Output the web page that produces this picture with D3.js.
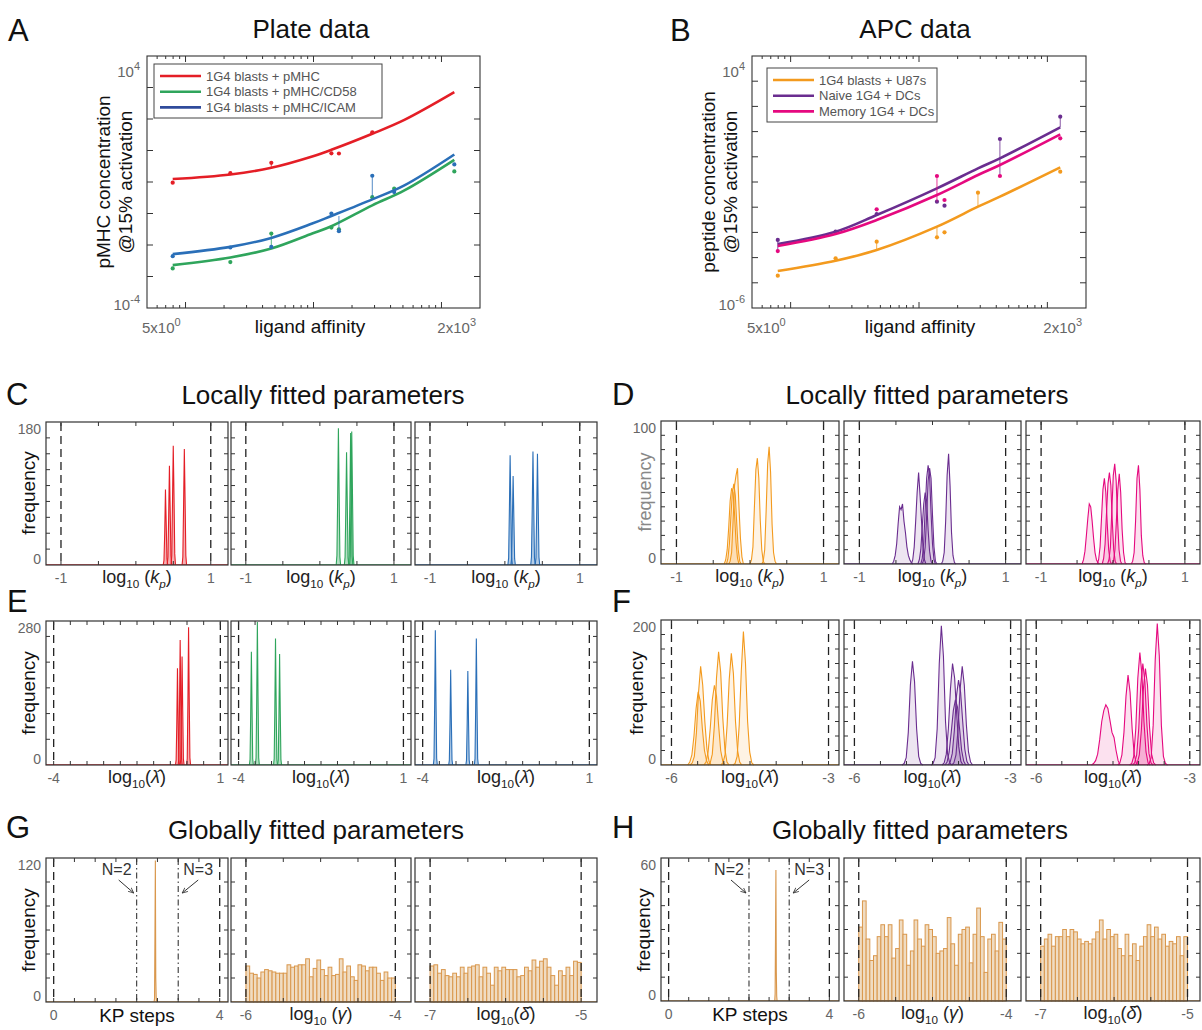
<!DOCTYPE html>
<html><head><meta charset="utf-8">
<script src="https://cdn.jsdelivr.net/npm/d3@7"></script>
<style>
body{margin:0;background:#fff}
svg text{font-family:"Helvetica Neue",Helvetica,"Liberation Sans",Arial,sans-serif}
</style></head><body>
<svg id="fig" width="1202" height="1030"></svg>
<script>
// ================= DATA =================
// Panel A (plate data)
const curveAffinityA = [7.94, 22.4, 46.8, 97.7, 138, 288, 513, 1260];
const redCurve   = [1.24, 1.74, 2.83, 6.46, 10.5, 33.9, 93.3, 708];
const greenCurve = [0.0023, 0.00401, 0.00773, 0.0231, 0.0394, 0.182, 0.542, 5.07];
const blueCurve  = [0.00512, 0.00873, 0.01683, 0.0479, 0.0836, 0.281, 0.78, 7.46];
const redPoints   = [[7.94,0.955],[22.4,1.91],[46.8,4.07],[138,8.13],[158,8.04],[288,38.0]];
const greenPoints = [[7.94,0.0018],[22.4,0.00286],[46.8,0.0231],[138,0.0357],[158,0.0316],[288,0.331],[427,0.612],[1260,2.16]];
const bluePoints  = [[7.94,0.00443],[22.4,0.00832],[46.8,0.00871],[138,0.0991],[158,0.0274],[288,1.58],[427,0.48],[1260,3.61]];
const redStems   = [[46.8,4.07,2.83],[288,38.0,33.9]];
const greenStems = [[46.8,0.0231,0.00871]];
const blueStems  = [[158,0.0274,0.0832],[288,1.58,0.331]];
const legendA = ["1G4 blasts + pMHC","1G4 blasts + pMHC/CD58","1G4 blasts + pMHC/ICAM"];

// Panel B (APC data)
const curveAffinityB = [7.94, 22.4, 46.8, 138, 288, 427, 1260];
const orangeCurve = [2.94e-5, 7.55e-5, 2.00e-4, 1.69e-3, 0.0105, 0.0262, 0.382];
const purpleCurve = [3.47e-4, 1.07e-3, 4.90e-3, 0.0561, 0.348, 0.869, 14.8];
const pinkCurve   = [2.88e-4, 8.65e-4, 3.10e-3, 0.0305, 0.190, 0.473, 7.80];
const orangePoints = [[7.94,1.92e-5],[22.4,9.33e-5],[46.8,4.29e-4],[138,6.37e-4],[158,1.01e-3],[288,0.0378],[1260,0.257]];
const purplePoints = [[7.94,5.01e-4],[22.4,1.07e-3],[46.8,5.37e-3],[138,0.0166],[158,0.0115],[427,5.08],[1260,39.2]];
const pinkPoints   = [[7.94,1.82e-4],[46.8,8.22e-3],[138,0.173],[158,0.0193],[427,0.173],[1260,5.41]];
const orangeStems = [[46.8,4.29e-4,2.0e-4],[138,6.37e-4,1.69e-3],[288,0.0378,0.0105]];
const purpleStems = [[7.94,5.01e-4,1.82e-4],[427,5.08,0.173],[1260,39.2,14.8]];
const pinkStems   = [[138,0.173,0.0166]];
const legendB = ["1G4 blasts  + U87s","Naive 1G4 + DCs","Memory 1G4 + DCs"];

// C: log10(kp) histograms (plate)
const cRed = [
 {start:0.365,step:0.01,counts:[0,6,40,95,52,8,0]},
 {start:0.418,step:0.01,counts:[0,10,62,125,70,12,0]},
 {start:0.469,step:0.01,counts:[0,12,80,150,88,14,0]},
 {start:0.617,step:0.01,counts:[0,10,75,146,82,12,0]}];
const cGreen = [
 {start:0.22,step:0.01,counts:[0,12,85,172,90,10,0]},
 {start:0.33,step:0.01,counts:[0,10,70,142,76,9,0]},
 {start:0.385,step:0.01,counts:[0,12,82,166,88,11,0]},
 {start:0.40,step:0.01,counts:[0,11,84,168,90,12,0]}];
const cBlue = [
 {start:0.04,step:0.01,counts:[0,9,68,138,72,10,0]},
 {start:0.08,step:0.01,counts:[0,8,55,112,60,8,0]},
 {start:0.345,step:0.01,counts:[0,10,70,143,76,9,0]},
 {start:0.405,step:0.01,counts:[0,9,68,140,74,10,0]}];
// D: log10(kp) histograms (APC)
const dOrange = [
 {start:-0.35,step:0.02,counts:[0,3,10,25,44,53,50,35,15,4,0]},
 {start:-0.32,step:0.02,counts:[0,4,14,33,50,56,48,28,10,2,0]},
 {start:-0.29,step:0.02,counts:[0,2,8,30,55,62,67,40,18,5,0]},
 {start:0.0,step:0.02,counts:[0,3,12,40,66,74,60,30,10,2,0]},
 {start:0.16,step:0.02,counts:[0,2,10,38,70,82,64,28,8,2,0]}];
const dPurple = [
 {start:-0.55,step:0.02,counts:[0,2,6,14,28,40,38,42,30,22,12,6,3,1,0]},
 {start:-0.29,step:0.02,counts:[0,3,12,30,50,64,48,30,12,3,0]},
 {start:-0.2,step:0.02,counts:[0,3,10,26,42,50,44,24,9,2,0]},
 {start:-0.16,step:0.02,counts:[0,4,15,38,60,69,62,36,14,3,0]},
 {start:-0.14,step:0.02,counts:[0,3,12,34,58,67,60,34,12,2,0]},
 {start:0.12,step:0.02,counts:[0,2,8,30,62,77,55,22,6,1,0]}];
const dPink = [
 {start:-0.43,step:0.02,counts:[0,3,9,20,32,42,40,30,18,8,3,1,0]},
 {start:-0.22,step:0.02,counts:[0,3,12,32,52,60,50,28,10,2,0]},
 {start:-0.15,step:0.02,counts:[0,4,14,36,56,64,55,30,10,2,0]},
 {start:-0.076,step:0.02,counts:[0,3,12,38,62,70,58,30,10,2,0]},
 {start:-0.013,step:0.02,counts:[0,2,10,30,52,63,50,24,8,1,0]},
 {start:0.254,step:0.02,counts:[0,2,8,30,60,69,52,20,6,1,0]}];
// E: log10(lambda-hat) histograms (plate)
const eRed = [
 {start:-0.346,step:0.02,counts:[0,10,80,188,95,12,0]},
 {start:-0.265,step:0.02,counts:[0,12,110,243,120,14,0]},
 {start:-0.208,step:0.02,counts:[0,10,95,211,105,12,0]},
 {start:-0.013,step:0.02,counts:[0,12,120,268,130,14,0]}];
const eGreen = [
 {start:-3.672,step:0.02,counts:[0,11,100,220,110,12,0]},
 {start:-3.49,step:0.02,counts:[0,14,125,278,135,14,0]},
 {start:-2.94,step:0.02,counts:[0,12,110,246,120,12,0]},
 {start:-2.816,step:0.02,counts:[0,10,95,216,105,11,0]}];
const eBlue = [
 {start:-3.68,step:0.02,counts:[0,12,118,262,125,13,0]},
 {start:-3.22,step:0.02,counts:[0,9,82,185,90,10,0]},
 {start:-2.705,step:0.02,counts:[0,9,80,183,88,10,0]},
 {start:-2.45,step:0.02,counts:[0,12,110,246,118,12,0]}];
// F: log10(lambda-hat) histograms (APC)
const fOrange = [
 {start:-5.69,step:0.04,counts:[0,4,14,40,78,101,88,50,20,6,0]},
 {start:-5.643,step:0.04,counts:[0,3,12,45,100,136,110,60,22,5,0]},
 {start:-5.38,step:0.04,counts:[0,4,18,50,90,110,95,55,20,5,0]},
 {start:-5.30,step:0.04,counts:[0,3,15,55,120,156,128,65,22,4,0]},
 {start:-5.057,step:0.04,counts:[0,3,14,55,118,154,126,60,20,4,0]},
 {start:-4.826,step:0.04,counts:[0,2,12,55,130,184,140,60,18,3,0]}];
const fPurple = [
 {start:-5.085,step:0.04,counts:[0,2,10,45,110,143,115,50,12,2,0]},
 {start:-4.53,step:0.04,counts:[0,2,10,50,140,192,150,60,15,3,0]},
 {start:-4.315,step:0.04,counts:[0,3,15,50,105,140,120,70,25,5,0]},
 {start:-4.26,step:0.04,counts:[0,4,18,45,75,90,80,50,20,5,0]},
 {start:-4.2,step:0.04,counts:[0,4,16,48,95,117,100,60,22,5,0]},
 {start:-4.129,step:0.04,counts:[0,3,14,50,105,136,110,55,18,4,0]}];
const fPink = [
 {start:-4.92,step:0.04,counts:[0,2,6,15,35,60,75,83,78,62,45,38,20,6,0]},
 {start:-4.406,step:0.04,counts:[0,3,14,45,95,124,100,50,15,3,0]},
 {start:-4.175,step:0.04,counts:[0,2,12,50,120,155,125,60,18,3,0]},
 {start:-4.117,step:0.04,counts:[0,3,14,50,110,140,115,55,16,3,0]},
 {start:-4.066,step:0.04,counts:[0,3,14,48,105,133,110,52,15,3,0]},
 {start:-3.835,step:0.04,counts:[0,2,10,55,145,195,150,55,12,2,0]}];
// G/H: global parameters
const gKP = [{start:2.42,step:0.01,counts:[0,3,55,118,20,4,1,0]}];
const hKP = [{start:2.64,step:0.01,counts:[0,3,28,55,12,2,0]}];
const gGammaBins = {start:-6, step:0.05, counts:[30,24,23,20,25,27,26,25,24,24,24,31,29,30,31,31,36,21,28,35,27,22,29,22,23,36,25,30,21,18,31,30,26,29,29,24,18,25,20,20]};
const gDeltaBins = {start:-7, step:0.05, counts:[30,31,24,27,22,21,24,21,29,24,29,30,31,21,29,24,14,29,26,29,27,27,27,21,22,29,26,35,29,34,36,29,22,14,26,22,29,22,34,33]};
const hGammaBins = {start:-6, step:0.05, counts:[31,42,26,17,19,27,32,27,32,18,22,34,28,15,21,34,26,23,32,30,27,20,21,22,35,24,15,28,30,31,16,28,39,27,12,26,28,21,33,26]};
const hDeltaBins = {start:-7, step:0.05, counts:[23,26,28,23,27,27,30,27,30,29,26,24,25,24,26,29,34,26,30,27,28,22,19,28,19,24,17,23,27,32,27,31,26,28,23,25,24,27,19,27]};

// ================= STYLE =================
const C = {red:"#e41e26", green:"#2fa55c", blue:"#2a6fb8", navy:"#2f4b9b", orange:"#f39a1e", purple:"#6a2d8f", pink:"#e5097f", tan:"#d9974c"};
const GRAY = "#666";

const svg = d3.select("#fig");
const defs = svg.append("defs");
defs.append("marker").attr("id","arr").attr("viewBox","0 0 10 10").attr("refX",9).attr("refY",5)
  .attr("markerWidth",6).attr("markerHeight",6).attr("orient","auto")
  .append("path").attr("d","M0,1 L9,5 L0,9").attr("fill","none").attr("stroke","#333").attr("stroke-width",1.3);

function txt(x,y,s,o={}){
  const t = svg.append("text").attr("x",x).attr("y",y).text(s)
    .attr("font-size",o.size||14).attr("fill",o.fill||"#111").attr("text-anchor",o.anchor||"start");
  if(o.rotate) t.attr("transform",`rotate(-90,${x},${y})`);
  if(o.family) t.attr("font-family",o.family);
  return t;
}
function powLabel(x,y,base,exp,anchor){
  const t = svg.append("text").attr("x",x).attr("y",y).attr("font-size",15).attr("fill",GRAY).attr("text-anchor",anchor);
  t.append("tspan").text(base);
  t.append("tspan").attr("dy",-7).attr("font-size",11).text(exp);
}
function rich(cx,y,segs,o={}){
  const t = svg.append("text").attr("x",cx).attr("y",y).attr("text-anchor","middle")
    .attr("font-family",o.family||"'Liberation Serif','DejaVu Serif',serif").attr("font-size",o.size||18).attr("fill","#222");
  let shift=0;
  segs.forEach(s=>{
    const want = s.sub?5:0;
    const sp = t.append("tspan").text(s.t).attr("dy",want-shift);
    shift = want;
    if(s.sub) sp.attr("font-size",(o.size||18)*0.65);
    if(s.it) sp.attr("font-style","italic");
  });
  return t;
}
const LOGKP = [{t:"log"},{t:"10",sub:true},{t:" ("},{t:"k",it:true},{t:"p",sub:true,it:true},{t:")"}];
const LOGLAM = [{t:"log"},{t:"10",sub:true},{t:"("},{t:"\u03bb\u0302",it:true},{t:")"}];
const LOGGAM = [{t:"log"},{t:"10",sub:true},{t:" ("},{t:"\u03b3",it:true},{t:")"}];
const LOGDEL = [{t:"log"},{t:"10",sub:true},{t:"("},{t:"\u03b4\u0302",it:true},{t:")"}];

// ================= LOG PANELS (A,B) =================
function logPanel(p){
  const x = d3.scaleLog().domain(p.xDom).range([p.x0,p.x1]);
  const y = d3.scaleLog().domain(p.yDom).range([p.y1,p.y0]);
  const g = svg.append("g");
  const isDecade = v => Math.abs(Math.log10(v)-Math.round(Math.log10(v)))<1e-9;
  x.ticks().forEach(v=>{
    if(v<=p.xDom[0]||v>=p.xDom[1]) return;
    const L = isDecade(v)?6:3;
    g.append("line").attr("x1",x(v)).attr("x2",x(v)).attr("y1",p.y1).attr("y2",p.y1-L).attr("stroke","#333");
    g.append("line").attr("x1",x(v)).attr("x2",x(v)).attr("y1",p.y0).attr("y2",p.y0+L).attr("stroke","#333");
  });
  y.ticks().filter(isDecade).forEach(v=>{
    if(v<=p.yDom[0]||v>=p.yDom[1]) return;
    g.append("line").attr("x1",p.x0).attr("x2",p.x0+6).attr("y1",y(v)).attr("y2",y(v)).attr("stroke","#333");
    g.append("line").attr("x1",p.x1).attr("x2",p.x1-6).attr("y1",y(v)).attr("y2",y(v)).attr("stroke","#333");
  });
  const line = d3.line().x(d=>x(d[0])).y(d=>y(d[1])).curve(d3.curveCatmullRom.alpha(0.5));
  p.series.forEach(s=>{
    s.stems.forEach(st=>g.append("line").attr("x1",x(st[0])).attr("x2",x(st[0])).attr("y1",y(st[1])).attr("y2",y(st[2]))
      .attr("stroke",s.color).attr("stroke-width",1).attr("stroke-opacity",0.8));
    g.append("path").attr("d",line(s.xs.map((v,i)=>[v,s.ys[i]]))).attr("fill","none").attr("stroke",s.color).attr("stroke-width",2.6);
    s.points.forEach(pt=>g.append("circle").attr("cx",x(pt[0])).attr("cy",y(pt[1])).attr("r",2.1).attr("fill",s.color));
  });
  g.append("rect").attr("x",p.x0).attr("y",p.y0).attr("width",p.x1-p.x0).attr("height",p.y1-p.y0)
    .attr("fill","none").attr("stroke","#333").attr("stroke-width",1.1);
  const lg = p.legend;
  g.append("rect").attr("x",lg.x).attr("y",lg.y).attr("width",lg.w).attr("height",lg.h).attr("fill","#fff").attr("stroke","#444").attr("stroke-width",1);
  p.series.forEach((s,i)=>{
    const yy = lg.y + 12 + i*15.7;
    g.append("line").attr("x1",lg.x+6).attr("x2",lg.x+47).attr("y1",yy).attr("y2",yy).attr("stroke",s.legendColor||s.color).attr("stroke-width",2.6);
    g.append("text").attr("x",lg.x+52).attr("y",yy+4.5).attr("font-size",13).attr("fill","#555").text(s.name);
  });
  powLabel(p.x0-7, p.y0+21, "10", p.yTopExp, "end");
  powLabel(p.x0-7, p.y1+2, "10", p.yBotExp, "end");
  powLabel(p.x0-5, p.y1+25, "5x10", "0", "start");
  powLabel(p.x1-4, p.y1+25, "2x10", "3", "end");
}

logPanel({x0:147,x1:480,y0:56,y1:308,xDom:[5,2000],yDom:[1e-4,1e4],yTopExp:"4",yBotExp:"-4",
  legend:{x:154,y:64,w:228,h:54},
  series:[
   {name:legendA[0],color:C.red,xs:curveAffinityA,ys:redCurve,points:redPoints,stems:redStems},
   {name:legendA[1],color:C.green,xs:curveAffinityA,ys:greenCurve,points:greenPoints,stems:greenStems},
   {name:legendA[2],color:C.blue,legendColor:C.navy,xs:curveAffinityA,ys:blueCurve,points:bluePoints,stems:blueStems}]});
logPanel({x0:752,x1:1086,y0:56,y1:308,xDom:[5,2000],yDom:[1e-6,1e4],yTopExp:"4",yBotExp:"-6",
  legend:{x:767,y:68,w:170,h:54},
  series:[
   {name:legendB[0],color:C.orange,xs:curveAffinityB,ys:orangeCurve,points:orangePoints,stems:orangeStems},
   {name:legendB[1],color:C.purple,xs:curveAffinityB,ys:purpleCurve,points:purplePoints,stems:purpleStems},
   {name:legendB[2],color:C.pink,xs:curveAffinityB,ys:pinkCurve,points:pinkPoints,stems:pinkStems}]});

txt(8,41,"A",{size:31}); txt(670,41,"B",{size:31});
txt(311,38,"Plate data",{size:26,anchor:"middle"});
txt(915,38,"APC data",{size:26,anchor:"middle"});
txt(110,182,"pMHC concentration",{size:19,anchor:"middle",rotate:true});
txt(132,182,"@15% activation",{size:19,anchor:"middle",rotate:true});
txt(310,333,"ligand affinity",{size:19,anchor:"middle"});
txt(715,182,"peptide concentration",{size:19,anchor:"middle",rotate:true});
txt(737,182,"@15% activation",{size:19,anchor:"middle",rotate:true});
txt(920,333,"ligand affinity",{size:19,anchor:"middle"});

// ================= HISTOGRAM PANELS =================
function histPanel(p){
  const x = d3.scaleLinear().domain(p.xDom).range([p.x0,p.x1]);
  const y = d3.scaleLinear().domain([0,p.yMax]).range([p.y1,p.y0]);
  const g = svg.append("g");
  if(p.bars){
    const b = p.bars;
    b.counts.forEach((c,i)=>{
      const a = b.start + i*b.step;
      g.append("rect").attr("x",x(a)).attr("width",x(a+b.step)-x(a)).attr("y",y(c)).attr("height",y(0)-y(c))
        .attr("fill","#f0dcc2").attr("stroke",p.color).attr("stroke-width",1);
    });
  }
  g.append("line").attr("x1",p.x0).attr("x2",p.x1).attr("y1",y(0)-0.5).attr("y2",y(0)-0.5).attr("stroke",p.color).attr("stroke-width",1).attr("stroke-opacity",0.7);
  const area = d3.area().x(d=>x(d[0])).y0(y(0)).y1(d=>y(d[1]));
  const line = d3.line().x(d=>x(d[0])).y(d=>y(d[1]));
  (p.peaks||[]).forEach(pk=>{
    const pts = pk.counts.map((c,i)=>[pk.start+i*pk.step,c]);
    g.append("path").attr("d",area(pts)).attr("fill",p.color).attr("fill-opacity",p.fillOp);
    g.append("path").attr("d",line(pts)).attr("fill","none").attr("stroke",p.color).attr("stroke-width",1.1);
  });
  (p.dashed||[]).forEach(v=>g.append("line").attr("x1",x(v)).attr("x2",x(v)).attr("y1",p.y0+1).attr("y2",p.y1)
    .attr("stroke","#222").attr("stroke-width",1.3).attr("stroke-dasharray","8,5"));
  (p.dashdot||[]).forEach(v=>g.append("line").attr("x1",x(v)).attr("x2",x(v)).attr("y1",p.y0+1).attr("y2",p.y1)
    .attr("stroke","#222").attr("stroke-width",1).attr("stroke-dasharray","6,3,1.5,3"));
  d3.range(Math.ceil(p.xDom[0]/p.xStep)*p.xStep, p.xDom[1], p.xStep).forEach(v=>{
    g.append("line").attr("x1",x(v)).attr("x2",x(v)).attr("y1",p.y0).attr("y2",p.y0+4).attr("stroke","#333");
    g.append("line").attr("x1",x(v)).attr("x2",x(v)).attr("y1",p.y1).attr("y2",p.y1-4).attr("stroke","#333");
  });
  d3.range(p.yStep,p.yMax,p.yStep).forEach(v=>{
    g.append("line").attr("x1",p.x0).attr("x2",p.x0+4).attr("y1",y(v)).attr("y2",y(v)).attr("stroke","#333");
    g.append("line").attr("x1",p.x1).attr("x2",p.x1-4).attr("y1",y(v)).attr("y2",y(v)).attr("stroke","#333");
  });
  g.append("rect").attr("x",p.x0).attr("y",p.y0).attr("width",p.x1-p.x0).attr("height",p.y1-p.y0)
    .attr("fill","none").attr("stroke","#333").attr("stroke-width",1.2);
  if(p.yLabels){
    txt(p.x0-5,p.y0+12,String(p.yMax),{size:14,fill:GRAY,anchor:"end"});
    txt(p.x0-5,p.y1-1,"0",{size:14,fill:GRAY,anchor:"end"});
  }
  (p.xTickLabels||[]).forEach(l=>txt(x(l[0]),p.y1+18,l[1],{size:14,fill:GRAY,anchor:"middle"}));
  if(p.xLabel){
    if(p.xLabel==="KP") txt((p.x0+p.x1)/2,p.y1+20,"KP steps",{size:19,anchor:"middle"});
    else rich((p.x0+p.x1)/2,p.y1+18,p.xLabel);
  }
  if(p.ann){
    const yT = p.y0+17;
    txt(x(2)-20,yT,"N=2",{size:16,fill:"#333",anchor:"middle"});
    txt(x(3)+20,yT,"N=3",{size:16,fill:"#333",anchor:"middle"});
    g.append("line").attr("x1",x(2)-18).attr("y1",p.y0+22).attr("x2",x(2)-3).attr("y2",p.y0+35).attr("stroke","#333").attr("marker-end","url(#arr)");
    g.append("line").attr("x1",x(3)+20).attr("y1",p.y0+22).attr("x2",x(3)+4).attr("y2",p.y0+35).attr("stroke","#333").attr("marker-end","url(#arr)");
  }
}

const LX = [[46,228],[231,411],[415,597]];
const RX = [[661,839],[844,1021],[1026,1200]];

function row(xs, y0, y1, base, cfgs){
  cfgs.forEach((c,i)=>histPanel(Object.assign({x0:xs[i][0],x1:xs[i][1],y0,y1,yLabels:i===0},base,c)));
}
row(LX,422,565,{yMax:180,yStep:20,xDom:[-1.2,1.23],xStep:0.5,dashed:[-1,1],fillOp:0.35,xTickLabels:[[-1,"-1"],[1,"1"]],xLabel:LOGKP},
  [{color:C.red,peaks:cRed},{color:C.green,peaks:cGreen},{color:C.blue,peaks:cBlue}]);
row(RX,421,564,{yMax:100,yStep:10,xDom:[-1.21,1.21],xStep:0.5,dashed:[-1,1],fillOp:0.12,xTickLabels:[[-1,"-1"],[1,"1"]],xLabel:LOGKP},
  [{color:C.orange,peaks:dOrange},{color:C.purple,peaks:dPurple},{color:C.pink,peaks:dPink}]);
row(LX,621,765,{yMax:280,yStep:50,xDom:[-4.23,1.23],xStep:0.5,dashed:[-4,1],fillOp:0.35,xTickLabels:[[-4,"-4"],[1,"1"]],xLabel:LOGLAM},
  [{color:C.red,peaks:eRed},{color:C.green,peaks:eGreen},{color:C.blue,peaks:eBlue}]);
row(RX,620,765,{yMax:200,yStep:20,xDom:[-6.2,-2.8],xStep:0.5,dashed:[-6,-3],fillOp:0.12,xTickLabels:[[-6,"-6"],[-3,"-3"]],xLabel:LOGLAM},
  [{color:C.orange,peaks:fOrange},{color:C.purple,peaks:fPurple},{color:C.pink,peaks:fPink}]);
row(LX,858,1002,{yMax:120,yStep:20,xStep:0.5,color:C.tan,fillOp:0.3},
  [{xDom:[-0.185,4.2],dashed:[0,4],dashdot:[2,3],peaks:gKP,xTickLabels:[[0,"0"],[4,"4"]],xLabel:"KP",ann:true},
   {xDom:[-6.2,-3.79],dashed:[-6,-4],bars:gGammaBins,xTickLabels:[[-6,"-6"],[-4,"-4"]],xLabel:LOGGAM},
   {xDom:[-7.2,-4.79],dashed:[-7,-5],bars:gDeltaBins,xTickLabels:[[-7,"-7"],[-5,"-5"]],xLabel:LOGDEL}]);
row(RX,858,1001,{yMax:60,yStep:10,xStep:0.5,color:C.tan,fillOp:0.3},
  [{xDom:[-0.19,4.24],dashed:[0,4],dashdot:[2,3],peaks:hKP,xTickLabels:[[0,"0"],[4,"4"]],xLabel:"KP",ann:true},
   {xDom:[-6.2,-3.8],dashed:[-6,-4],bars:hGammaBins,xTickLabels:[[-6,"-6"],[-4,"-4"]],xLabel:LOGGAM},
   {xDom:[-7.2,-4.83],dashed:[-7,-5],bars:hDeltaBins,xTickLabels:[[-7,"-7"],[-5,"-5"]],xLabel:LOGDEL}]);

txt(6,405,"C",{size:31}); txt(612,405,"D",{size:31});
txt(7,612,"E",{size:31}); txt(612,612,"F",{size:31});
txt(6,838,"G",{size:31}); txt(612,838,"H",{size:31});
txt(323,404,"Locally fitted parameters",{size:26,anchor:"middle"});
txt(927,404,"Locally fitted parameters",{size:26,anchor:"middle"});
txt(316,839,"Globally fitted parameters",{size:26,anchor:"middle"});
txt(920,839,"Globally fitted parameters",{size:26,anchor:"middle"});
txt(35,493,"frequency",{size:19,anchor:"middle",rotate:true});
txt(651,492,"frequency",{size:18,anchor:"middle",rotate:true,fill:"#888"});
txt(35,693,"frequency",{size:19,anchor:"middle",rotate:true});
txt(643,693,"frequency",{size:19,anchor:"middle",rotate:true});
txt(35,930,"frequency",{size:19,anchor:"middle",rotate:true});
txt(650,930,"frequency",{size:19,anchor:"middle",rotate:true});
</script>
</body></html>
